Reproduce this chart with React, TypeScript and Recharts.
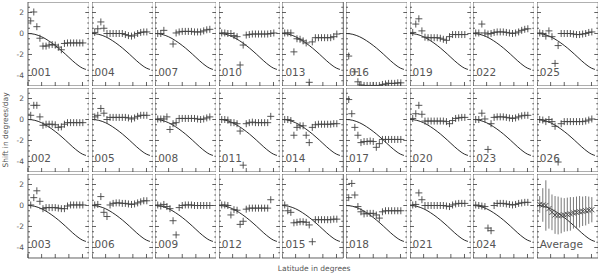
import React from 'react'
import { ComposedChart, Line, Scatter, XAxis, YAxis, ErrorBar } from 'recharts'

document.body.style.margin = '0'

const FONT = 'DejaVu Sans, sans-serif'
const INK = '#3a3a3a'
const TEXT = '#555555'

// latitudes of the measured points (degrees)
const LAT = [4, 8.5, 13, 17.5, 22, 26.5, 31, 35.5, 40, 44.5, 49, 53.5, 58, 62.5, 67, 71.5, 76, 80.5]

// reference rotation curve
const CURVE_LAT = [0, 5, 10, 15, 20, 25, 30, 35, 40, 45, 50, 55, 60, 65, 70, 75, 80, 85]
const CURVE_VAL = [0, -0.02, -0.08, -0.18, -0.31, -0.48, -0.68, -0.9, -1.14, -1.4, -1.68, -1.97, -2.27, -2.57, -2.85, -3.1, -3.3, -3.42]

const S001 = [1.2, 2.05, 0.65, -0.45, -1.2, -1.2, -1.1, -1.05, -1.1, -1.3, -1.55, -0.95, -0.9, -0.9, -0.9, -0.9, -0.9, -0.9]
const S002 = [0.4, 1.35, 1.35, 0.25, -0.55, -0.45, -0.45, -0.45, -0.5, -0.75, -0.7, -0.45, -0.3, -0.3, -0.3, -0.3, -0.3, -0.3]
const S003 = [0.05, 0.75, 1.4, 0.4, -0.3, -0.2, -0.2, -0.2, -0.2, -0.25, -0.3, -0.3, -0.05, 0.05, 0.05, 0.05, 0.05, 0.05]
const S004 = [0.1, 0.45, 1.1, 0.5, 0, 0, 0, 0, 0, 0, -0.1, -0.2, -0.25, -0.15, 0, 0.1, 0.15, 0.15]
const S005 = [0.25, 0.4, 1.05, 0.6, 0, 0.2, 0.2, 0.2, 0.2, 0.2, 0.2, 0.15, 0.05, 0.15, 0.3, 0.4, 0.4, 0.4]
const S006 = [0.05, 0.1, 0.85, -0.65, -1.05, 0.05, 0.2, 0.25, 0.25, 0.2, 0.2, 0.15, 0.1, 0.15, 0.25, 0.35, 0.45, 0.45]
const S007 = [0, 0, 0.3, null, null, -1.0, 0.05, 0.15, 0.2, 0.2, 0.2, 0.2, 0.15, 0.15, 0.15, 0.25, 0.35, 0.4]
const S008 = [0.05, 0.05, 0.05, 0.25, -0.95, -0.4, -0.3, 0.1, 0.1, 0.1, 0.1, 0.1, 0.1, 0.05, 0, 0.05, 0.15, 0.25]
const S009 = [0.05, -0.05, 0.1, -0.1, -0.3, -1.45, -2.8, -0.2, 0, 0.05, 0.05, 0.05, 0, 0, 0, 0, 0, 0]
const S010 = [0.05, 0.05, 0, 0, -0.2, -0.3, -3.0, -1.1, -0.15, -0.1, -0.05, -0.05, -0.05, -0.05, -0.05, -0.05, 0, 0.05]
const S011 = [0, 0, -0.05, -0.3, -0.3, -0.4, -1.1, -4.35, -0.4, -0.3, -0.25, -0.3, -0.3, -0.3, -0.3, -0.3, 0.3, null]
const S012 = [0.05, 0.05, 0, -0.9, -0.4, -0.45, -1.8, -1.5, -0.35, -0.25, -0.25, -0.25, -0.25, -0.25, -0.25, -0.25, 0.55, null]
const S013 = [0.05, 0.05, 0.05, -1.75, -0.5, -0.55, -0.7, -0.9, -4.65, -0.8, -0.4, -0.4, -0.4, -0.4, -0.4, -0.4, -0.3, -0.05]
const S014 = [0, 0, -0.1, -1.5, -0.75, -0.6, -0.6, -1.5, -2.2, -0.75, -0.5, -0.45, -0.45, -0.45, -0.45, -0.45, -0.4, -0.4]
const S015 = [0.05, -0.5, -0.65, -1.65, -1.6, -1.55, -1.55, -1.6, -1.85, -3.45, -1.35, -1.35, -1.35, -1.35, -1.35, -1.35, -1.3, -1.3]
const S016 = [-2.15, null, -3.65, -4.6, -4.9, -4.95, -4.95, -4.95, -4.95, -4.95, -4.95, -4.85, -4.8, -4.75, -4.75, -4.75, -4.7, -4.7]
const S017 = [1.9, 0.55, -0.75, -1.5, -2.2, -2.1, -2.1, -2.05, -2.1, -2.65, -2.3, -1.9, -1.9, -1.9, -1.9, -1.9, -1.9, -1.9]
const S018 = [0.75, 2.1, 1.0, -0.1, -0.6, -0.8, -0.75, -0.75, -0.75, -0.9, -1.2, -0.6, -0.5, -0.5, -0.5, -0.5, -0.5, -0.5]
const S019 = [0.1, 0.9, 1.4, 0.25, -0.35, -0.4, -0.4, -0.4, -0.4, -0.45, -0.55, -0.65, -0.3, -0.1, -0.1, -0.1, -0.1, -0.1]
const S020 = [0.1, 0.55, 1.35, 0.5, -0.15, -0.15, -0.15, -0.15, -0.15, -0.15, -0.15, -0.2, -0.4, -0.1, 0.1, 0.15, 0.2, 0.2]
const S021 = [0.05, 0.1, 1.2, 0.55, 0, 0, 0, 0, 0, 0, 0, -0.05, -0.1, 0.05, 0.15, 0.2, 0.2, 0.2]
const S022 = [0.05, 0.05, 0.9, 0.05, -0.05, 0, 0.1, 0.15, 0.15, 0.15, 0.1, 0.05, 0, 0.05, 0.15, 0.3, 0.4, 0.45]
const S023 = [0, 0, 0.6, 0.05, -2.85, -0.4, 0.2, 0.25, 0.25, 0.25, 0.2, 0.15, 0.1, 0.15, 0.25, 0.35, 0.4, 0.4]
const S024 = [0.05, 0, -0.05, -0.1, -2.15, -2.4, 0, 0.2, 0.2, 0.2, 0.15, 0.1, 0.05, 0.1, 0.2, 0.25, 0.3, 0.3]
const S025 = [0.05, 0, -0.25, 0.25, -0.3, -2.85, -1.15, 0, 0, 0, 0, -0.05, -0.1, -0.1, -0.05, 0, 0.1, 0.15]
const S026 = [0, -0.05, -0.2, 0, -0.2, -0.65, -4.05, -0.4, -0.2, -0.2, -0.2, -0.2, -0.2, -0.2, -0.2, -0.15, -0.05, 0.05]

const AVG_VAL = [0.1, 0.05, 0, -0.3, -0.65, -0.9, -0.95, -0.95, -0.9, -0.85, -0.8, -0.7, -0.65, -0.6, -0.55, -0.5, -0.45, -0.4]
const AVG_ERR = [0.8, 1.6, 2.4, 1.9, 1.7, 1.8, 1.8, 1.7, 1.6, 1.6, 1.6, 1.5, 1.5, 1.5, 1.4, 1.4, 1.3, 1.2]

// panels in column order (three per column)
const SERIES = [S001, S002, S003, S004, S005, S006, S007, S008, S009, S010, S011, S012, S013,
  S014, S015, S016, S017, S018, S019, S020, S021, S022, S023, S024, S025, S026]

const X_MAJOR = [0, 20, 40, 60, 80]
const X_MINOR = [5, 10, 15, 25, 30, 35, 45, 50, 55, 65, 70, 75, 85]
const Y_MAJOR = [-4, -2, 0, 2]
const Y_MINOR = [-4.5, -3.5, -3, -2.5, -1.5, -1, -0.5, 0.5, 1, 1.5, 2.5]

const X0 = 28
const COL_STEP = 63.6
const PW = 61.3
const Y0 = 1.5
const ROW_STEP = 86
const PH = 84
const YLAB_W = 28
const XLAB_H = 14
const THIN = 0.01 // mirrored axes take no room

const curveData = CURVE_LAT.map((lat, i) => ({ lat, c: CURVE_VAL[i] }))

const Empty = () => <g />

const Plus = (p: any) => {
  const { cx, cy } = p
  if (cx == null || cy == null || isNaN(cx) || isNaN(cy)) return <g />
  return <path d={`M${cx - 3.5},${cy}H${cx + 3.5}M${cx},${cy - 3.5}V${cy + 3.5}`} stroke="#444" strokeWidth={0.9} fill="none" />
}

const Cross = (p: any) => {
  const { cx, cy } = p
  if (cx == null || cy == null || isNaN(cx) || isNaN(cy)) return <g />
  const r = 2.6
  return <path d={`M${cx - r},${cy - r}L${cx + r},${cy + r}M${cx - r},${cy + r}L${cx + r},${cy - r}`} stroke="#444" strokeWidth={0.9} fill="none" />
}

function frameAxes(col: number, row: number) {
  const line = { stroke: INK, strokeWidth: 0.8 }
  const xs = { type: 'number' as const, domain: [0, 90], allowDataOverflow: true, interval: 0 as const, height: THIN, mirror: true, tick: Empty }
  const ys = { type: 'number' as const, domain: [-5, 3], allowDataOverflow: true, interval: 0 as const, width: THIN, mirror: true, tick: Empty }
  const els = [
    <XAxis key="x" xAxisId="x" dataKey="lat" orientation="bottom" ticks={X_MAJOR} tickSize={4} axisLine={line} tickLine={line} {...xs} />,
    <XAxis key="xm" xAxisId="xm" orientation="bottom" ticks={X_MINOR} tickSize={2} axisLine={false} tickLine={line} {...xs} />,
    <XAxis key="xt" xAxisId="xt" orientation="top" ticks={X_MAJOR} tickSize={4} axisLine={line} tickLine={line} {...xs} />,
    <XAxis key="xtm" xAxisId="xtm" orientation="top" ticks={X_MINOR} tickSize={2} axisLine={false} tickLine={line} {...xs} />,
    <YAxis key="y" yAxisId="y" orientation="left" ticks={Y_MAJOR} tickSize={4} axisLine={line} tickLine={line} {...ys} />,
    <YAxis key="ym" yAxisId="ym" orientation="left" ticks={Y_MINOR} tickSize={2} axisLine={false} tickLine={line} {...ys} />,
    <YAxis key="yr" yAxisId="yr" orientation="right" ticks={Y_MAJOR} tickSize={4} axisLine={line} tickLine={line} {...ys} />,
    <YAxis key="yrm" yAxisId="yrm" orientation="right" ticks={Y_MINOR} tickSize={2} axisLine={false} tickLine={line} {...ys} />,
  ]
  const tickFont = { fontSize: 7.5, fill: TEXT, fontFamily: FONT }
  if (row === 2) {
    els.push(
      <XAxis key="xl" xAxisId="xl" type="number" domain={[0, 90]} allowDataOverflow ticks={X_MAJOR} interval={0}
        orientation="bottom" height={XLAB_H} tickSize={1} tickMargin={1} axisLine={false} tickLine={false} tick={tickFont} />
    )
  }
  if (col === 0) {
    els.push(
      <YAxis key="yl" yAxisId="yl" type="number" domain={[-5, 3]} allowDataOverflow ticks={Y_MAJOR} interval={0}
        orientation="left" width={YLAB_W} tickSize={2} tickMargin={2} axisLine={false} tickLine={false} tick={tickFont} />
    )
  }
  return els
}

function Panel({ col, row }: { col: number; row: number }) {
  const idx = col * 3 + row
  const isAvg = idx === 26
  const name = isAvg ? 'Average' : String(idx + 1).padStart(3, '0')
  const vals = isAvg ? AVG_VAL : SERIES[idx]
  const pts = LAT.map((lat, i) => ({ lat, v: vals[i], err: AVG_ERR[i] })).filter(d => d.v != null)

  const left = X0 + col * COL_STEP
  const top = Y0 + row * ROW_STEP
  const w = PW + (col === 0 ? YLAB_W : 0)
  const h = PH + (row === 2 ? XLAB_H : 0)

  return (
    <>
      <div style={{ position: 'absolute', left: left - (col === 0 ? YLAB_W : 0), top }}>
        <ComposedChart width={w} height={h} margin={{ top: 0, right: 0, bottom: 0, left: 0 }}>
          {frameAxes(col, row)}
          <Line data={curveData} xAxisId="x" yAxisId="y" dataKey="c" type="monotone" stroke="#111" strokeWidth={0.9}
            dot={false} activeDot={false} isAnimationActive={false} />
          <Scatter data={pts} xAxisId="x" yAxisId="y" dataKey="v" shape={isAvg ? Cross : Plus} isAnimationActive={false}>
            {isAvg && <ErrorBar dataKey="err" direction="y" width={0} stroke="#555" strokeWidth={0.8} isAnimationActive={false} />}
          </Scatter>
        </ComposedChart>
      </div>
      <div style={{ position: 'absolute', left: left + 3, top: top + 65, fontFamily: FONT, fontSize: 10.5, lineHeight: '10px', color: TEXT, pointerEvents: 'none', whiteSpace: 'nowrap' }}>
        {name}
      </div>
    </>
  )
}

export default function App() {
  const cells = []
  for (let col = 0; col < 9; col++) {
    for (let row = 0; row < 3; row++) cells.push(<Panel key={`${col}-${row}`} col={col} row={row} />)
  }
  return (
    <div style={{ position: 'relative', width: 600, height: 277, background: '#fff', overflow: 'hidden' }}>
      {cells}
      <div style={{ position: 'absolute', left: X0, width: 9 * COL_STEP, top: 265, textAlign: 'center', fontFamily: FONT, fontSize: 7.5, lineHeight: '8px', color: TEXT }}>
        Latitude in degrees
      </div>
      <div style={{ position: 'absolute', left: 6 - 100, top: 130 - 4, width: 200, height: 8, textAlign: 'center', fontFamily: FONT, fontSize: 7.5, lineHeight: '8px', color: TEXT, transform: 'rotate(-90deg)' }}>
        Shift in degrees/day
      </div>
    </div>
  )
}
